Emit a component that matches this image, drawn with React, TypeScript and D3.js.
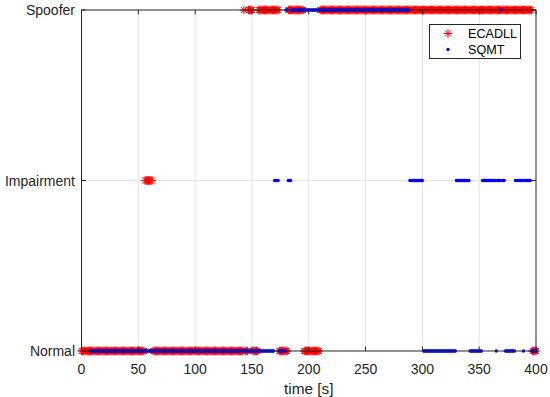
import React from 'react';
import * as d3 from 'd3';

// detector states, bottom to top
const stateLabels = ['Normal', 'Impairment', 'Spoofer'];
const xTicks = [0, 50, 100, 150, 200, 250, 300, 350, 400];

// runs: [from s, to s, state index]
const ecadllRuns: [number, number, number][] = [
  [0, 55, 0],
  [56, 62, 1],
  [63, 142, 0],
  [143, 143, 2],
  [144, 146, 0],
  [147, 150, 2],
  [151, 155, 0],
  [156, 173, 2],
  [174, 181, 0],
  [182, 195, 2],
  [196, 209, 0],
  [210, 396, 2],
  [397, 400, 0],
];

const sqmtRuns: [number, number, number][] = [
  [8, 169, 0],
  [170, 173, 1],
  [174, 179, 0],
  [180, 181, 2],
  [182, 184, 1],
  [185, 288, 2],
  [289, 300, 1],
  [301, 329, 0],
  [330, 341, 1],
  [342, 352, 0],
  [353, 364, 1],
  [365, 365, 0],
  [366, 368, 1],
  [369, 369, 2],
  [370, 372, 1],
  [373, 381, 0],
  [382, 388, 1],
  [389, 389, 0],
  [390, 395, 1],
  [396, 400, 0],
];

const sampleStep = 1; // s

function expand(runs: [number, number, number][]) {
  const pts: { t: number; s: number }[] = [];
  runs.forEach(([a, b, s]) => {
    for (let t = a; t <= b; t += sampleStep) pts.push({ t, s });
  });
  return pts;
}

const W = 550;
const H = 397;
const axisColor = '#262626';
const gridColor = '#e4e4e4';
const font = 'Arial, "Liberation Sans", Helvetica, sans-serif';

const starPath = 'M-4.3,0H4.3M0,-4.3V4.3M-3,-3L3,3M-3,3L3,-3';

export default function App() {
  const x = d3.scaleLinear().domain([0, 400]).range([81.5, 536]);
  const y = d3.scaleLinear().domain([0, 2]).range([351, 10]);
  const ecadll = expand(ecadllRuns);
  const sqmt = expand(sqmtRuns);

  const [x0, x1] = x.range();
  const [y0, y1] = y.range();
  const tickLen = 4.5;

  return (
    <svg width={W} height={H} style={{ position: 'absolute', left: 0, top: 0, background: '#fff' }}
      fontFamily={font}>
      <rect x={0} y={0} width={W} height={H} fill="#fff" />
      {/* grid */}
      {xTicks.slice(1, -1).map(t => (
        <line key={'gx' + t} x1={x(t)} x2={x(t)} y1={y1} y2={y0} stroke={gridColor} strokeWidth={1} />
      ))}
      <line x1={x0} x2={x1} y1={y(1)} y2={y(1)} stroke={gridColor} strokeWidth={1} />

      {/* ECADLL stars */}
      <g stroke="#ff0000" strokeWidth={1} fill="none">
        {ecadll.map((d, i) => (
          <path key={'e' + i} d={starPath} transform={`translate(${x(d.t)},${y(d.s)})`} />
        ))}
      </g>
      {/* SQMT dots */}
      <g fill="#0000ff">
        {sqmt.map((d, i) => (
          <circle key={'q' + i} cx={x(d.t)} cy={y(d.s)} r={1.7} />
        ))}
      </g>

      {/* axes box */}
      <rect x={x0} y={y1} width={x1 - x0} height={y0 - y1} fill="none" stroke={axisColor} strokeWidth={1} />
      {xTicks.map(t => (
        <g key={'tx' + t}>
          <line x1={x(t)} x2={x(t)} y1={y0} y2={y0 - tickLen} stroke={axisColor} />
          <line x1={x(t)} x2={x(t)} y1={y1} y2={y1 + tickLen} stroke={axisColor} />
          <text x={x(t)} y={368.5} textAnchor="middle" dominantBaseline="central" fontSize={14} fill={axisColor}>{t}</text>
        </g>
      ))}
      {stateLabels.map((l, i) => (
        <g key={'ty' + l}>
          <line x1={x0} x2={x0 + tickLen} y1={y(i)} y2={y(i)} stroke={axisColor} />
          <line x1={x1} x2={x1 - tickLen} y1={y(i)} y2={y(i)} stroke={axisColor} />
          <text x={75} y={y(i)} textAnchor="end" dominantBaseline="central" fontSize={14} fill={axisColor}>{l}</text>
        </g>
      ))}
      <text x={(x0 + x1) / 2} y={388.5} textAnchor="middle" dominantBaseline="central" fontSize={15.4} fill={axisColor}>time [s]</text>

      {/* legend */}
      <g>
        <rect x={429.5} y={24.5} width={91} height={34} fill="#fff" stroke={axisColor} strokeWidth={1} />
        <path d={starPath} transform="translate(448,33.5)" stroke="#ff0000" fill="none" strokeWidth={1} />
        <text x={468} y={33.5} dominantBaseline="central" fontSize={12.6} fill="#000">ECADLL</text>
        <circle cx={448} cy={49.5} r={1.7} fill="#0000ff" />
        <text x={468} y={49.5} dominantBaseline="central" fontSize={12.6} fill="#000">SQMT</text>
      </g>
    </svg>
  );
}
